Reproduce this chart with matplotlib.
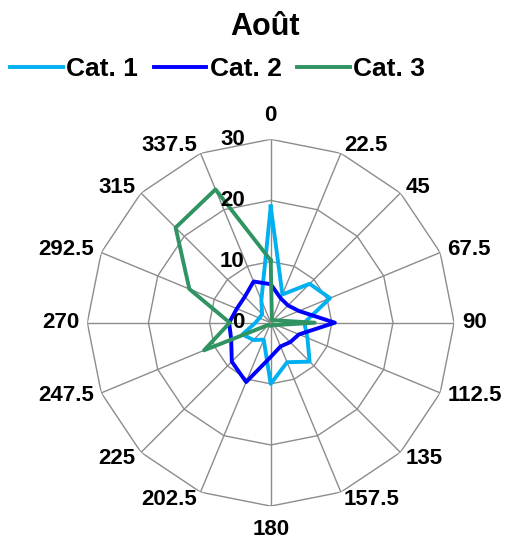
import numpy as np
import matplotlib.pyplot as plt

plt.rcParams['font.family'] = ['Liberation Sans', 'DejaVu Sans']

# wind-rose style directions (degrees, clockwise from north)
directions = [0, 22.5, 45, 67.5, 90, 112.5, 135, 157.5,
              180, 202.5, 225, 247.5, 270, 292.5, 315, 337.5]
direction_labels = ['0', '22.5', '45', '67.5', '90', '112.5', '135', '157.5',
                    '180', '202.5', '225', '247.5', '270', '292.5', '315', '337.5']
ring_values = [0, 10, 20, 30]

cat1 = [19, 5, 9, 10.5, 5.5, 6.5, 9, 7, 10, 3, 4, 5, 2.5, 2, 2, 4]
cat2 = [6.3, 4.3, 4, 5, 10.5, 5, 4.5, 4.2, 5.6, 10.5, 9, 7, 6.8, 6, 6, 7.3]
cat3 = [10.2, 0.5, 0.5, 1, 7.2, 1, 0.5, 0.5, 0.5, 0.5, 0.5, 11.8, 6.7, 14.4, 22, 23.6]

series_names = ['Cat. 1', 'Cat. 2', 'Cat. 3']
series_colors = ['#00B0F0', '#0000FF', '#2F9462']

fig = plt.figure(figsize=(5.06, 5.42), dpi=100)
ax = fig.add_axes([0.1725, 0.0662, 0.725, 0.6768], projection='polar')
ax.set_theta_zero_location('N')
ax.set_theta_direction(-1)
ax.set_ylim(0, 30)
ax.grid(False)
ax.spines['polar'].set_visible(False)
ax.set_xticks([])
ax.set_yticks([])

theta = np.deg2rad(directions)
closed = np.append(theta, theta[0])

# polygon rings + spokes
for r in ring_values[1:]:
    ax.plot(closed, [r] * len(closed), color='#8c8c8c', lw=1.0, zorder=1)
for t in theta:
    ax.plot([t, t], [0, ring_values[-1]], color='#8c8c8c', lw=1.0, zorder=1)

for values, color, name in zip([cat1, cat2, cat3], series_colors, series_names):
    ax.plot(closed, np.append(values, values[0]), color=color, lw=2.8,
            label=name, solid_joinstyle='round', zorder=3)

# direction labels just outside the outer ring
for t, lab in zip(theta, direction_labels):
    s, c = np.sin(t), np.cos(t)
    if abs(s) < 0.1:
        ha, va, gap = 'center', ('bottom' if c > 0 else 'top'), 13
    else:
        ha, va, gap = ('left' if s > 0 else 'right'), 'center', 8
    ax.annotate(lab, xy=(t, ring_values[-1]), xytext=(gap * s * 0.72, gap * c * 0.72),
                textcoords='offset points', ha=ha, va=va, fontsize=16,
                fontweight='bold', annotation_clip=False)

# value labels along the north axis
for r in ring_values:
    ax.annotate(str(r), xy=(0, r), xytext=(-26 * 0.72, 0), textcoords='offset points',
                ha='right', va='center', fontsize=16, fontweight='bold', zorder=5,
                annotation_clip=False)

fig.text(0.524, 0.9354, 'Août', ha='center', va='baseline', fontsize=22, fontweight='bold')
fig.legend(loc='center left', bbox_to_anchor=(10 / 506, 0.873), ncol=3, frameon=False,
           prop={'size': 19, 'weight': 'bold'}, handlelength=2.0, handletextpad=0.12,
           columnspacing=0.6, borderpad=0, borderaxespad=0)

fig.savefig('out.png', dpi=100)
